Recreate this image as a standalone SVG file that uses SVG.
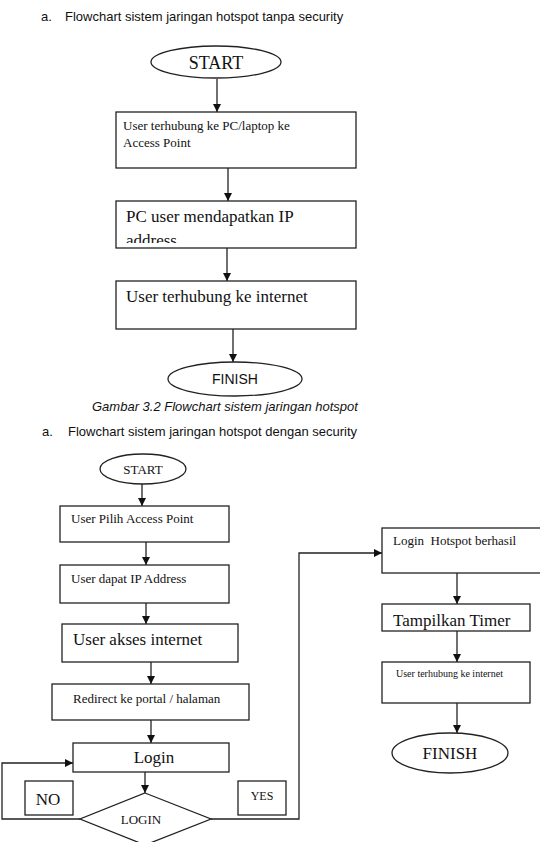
<svg xmlns="http://www.w3.org/2000/svg" width="540" height="842" viewBox="0 0 540 842">
<style>
.s{font-family:"Liberation Serif","Times New Roman",serif;fill:#111}
.a{font-family:"Liberation Sans",Arial,sans-serif;fill:#111}
.b{fill:#fff;stroke:#222;stroke-width:1.3}
.l{fill:none;stroke:#222;stroke-width:1.3}
</style>
<defs>
<marker id="ar" viewBox="0 0 10 10" refX="10" refY="5" markerWidth="8" markerHeight="8" markerUnits="userSpaceOnUse" orient="auto"><path d="M0,0L10,5L0,10z" fill="#111"/></marker>
<clipPath id="c1"><rect x="116" y="201" width="240" height="42"/></clipPath>
<clipPath id="c2"><rect x="52" y="684" width="197" height="35"/></clipPath>
<clipPath id="c3"><rect x="382" y="604" width="148" height="26"/></clipPath>
</defs>
<rect width="540" height="842" fill="#fff"/>
<text class="a" x="41" y="21" font-size="13">a.</text>
<text class="a" x="65" y="21" font-size="13">Flowchart sistem jaringan hotspot tanpa security</text>
<text class="a" x="92" y="411" font-size="13" font-style="italic">Gambar 3.2 Flowchart sistem jaringan hotspot</text>
<text class="a" x="42" y="436" font-size="13">a.</text>
<text class="a" x="68" y="436" font-size="13">Flowchart sistem jaringan hotspot dengan security</text>

<g id="connectors">
<line class="l" x1="217" y1="79" x2="217" y2="112" marker-end="url(#ar)"/>
<line class="l" x1="228" y1="168" x2="228" y2="201" marker-end="url(#ar)"/>
<line class="l" x1="227" y1="248" x2="227" y2="281" marker-end="url(#ar)"/>
<line class="l" x1="233" y1="329" x2="233" y2="362" marker-end="url(#ar)"/>
<line class="l" x1="142" y1="484" x2="142" y2="506" marker-end="url(#ar)"/>
<line class="l" x1="146" y1="542" x2="146" y2="565" marker-end="url(#ar)"/>
<line class="l" x1="146" y1="603" x2="146" y2="624" marker-end="url(#ar)"/>
<line class="l" x1="151" y1="662" x2="151" y2="684" marker-end="url(#ar)"/>
<line class="l" x1="151" y1="720" x2="151" y2="743" marker-end="url(#ar)"/>
<line class="l" x1="145" y1="772" x2="145" y2="793" marker-end="url(#ar)"/>
<polyline class="l" points="80,819 2,819 2,763 73,763" marker-end="url(#ar)"/>
<polyline class="l" points="211,819 299,819 299,553 382,553" marker-end="url(#ar)"/>
<line class="l" x1="457" y1="573" x2="457" y2="604" marker-end="url(#ar)"/>
<line class="l" x1="457" y1="631" x2="457" y2="662" marker-end="url(#ar)"/>
<line class="l" x1="457" y1="703" x2="457" y2="733" marker-end="url(#ar)"/>
</g>

<g id="start1"><ellipse class="b" cx="216" cy="62" rx="65" ry="16"/><text class="s" x="216" y="69" font-size="18" text-anchor="middle">START</text></g>
<g id="box1"><rect class="b" x="116" y="112" width="240" height="56"/><text class="s" x="123" y="130" font-size="13">User terhubung ke PC/laptop ke</text><text class="s" x="123" y="147" font-size="13">Access Point</text></g>
<g id="box2"><rect class="b" x="116" y="201" width="240" height="47"/><text class="s" x="126" y="222" font-size="17">PC user mendapatkan IP</text><text class="s" x="126" y="246" font-size="17" clip-path="url(#c1)">address</text></g>
<g id="box3"><rect class="b" x="116" y="281" width="240" height="48"/><text class="s" x="126" y="302" font-size="17">User terhubung ke internet</text></g>
<g id="finish1"><ellipse class="b" cx="235" cy="379" rx="67" ry="17"/><text class="a" x="235" y="384" font-size="14" text-anchor="middle">FINISH</text></g>

<g id="start2"><ellipse class="b" cx="143" cy="469" rx="43" ry="15"/><text class="s" x="143" y="474" font-size="13" text-anchor="middle">START</text></g>
<g id="pilih"><rect class="b" x="60" y="506" width="169" height="36"/><text class="s" x="71" y="523" font-size="13">User Pilih Access Point</text></g>
<g id="dapatip"><rect class="b" x="60" y="565" width="169" height="38"/><text class="s" x="71" y="583" font-size="13">User dapat IP Address</text></g>
<g id="akses"><rect class="b" x="62" y="624" width="176" height="38"/><text class="s" x="73" y="645" font-size="17">User akses internet</text></g>
<g id="redirect"><rect class="b" x="52" y="684" width="197" height="36"/><text class="s" x="73" y="703" font-size="13">Redirect ke portal / halaman</text><text class="s" x="73" y="728" font-size="13" clip-path="url(#c2)">login hotspot</text></g>
<g id="login"><rect class="b" x="73" y="743" width="156" height="29"/><text class="s" x="154" y="763" font-size="17" text-anchor="middle">Login</text></g>
<g id="decision"><polygon class="b" points="145,793 211,819 145,845 80,819"/><text class="s" x="141" y="824" font-size="13" text-anchor="middle">LOGIN</text></g>
<g id="no"><rect class="b" x="25" y="781" width="48" height="34"/><text class="s" x="48" y="805" font-size="17" text-anchor="middle">NO</text></g>
<g id="yes"><rect class="b" x="238" y="781" width="48" height="34"/><text class="s" x="262" y="800" font-size="12" text-anchor="middle">YES</text></g>
<g id="berhasil"><rect class="b" x="382" y="528" width="160" height="45"/><text class="s" x="393" y="545" font-size="13" style="white-space:pre">Login  Hotspot berhasil</text></g>
<g id="timer"><rect class="b" x="382" y="604" width="148" height="27"/><text class="s" x="393" y="626" font-size="17" clip-path="url(#c3)">Tampilkan Timer</text></g>
<g id="internet2"><rect class="b" x="382" y="662" width="148" height="41"/><text class="s" x="396" y="677" font-size="10">User terhubung ke internet</text></g>
<g id="finish2"><ellipse class="b" cx="450" cy="753" rx="58" ry="20"/><text class="s" x="450" y="759" font-size="17" text-anchor="middle">FINISH</text></g>
</svg>
